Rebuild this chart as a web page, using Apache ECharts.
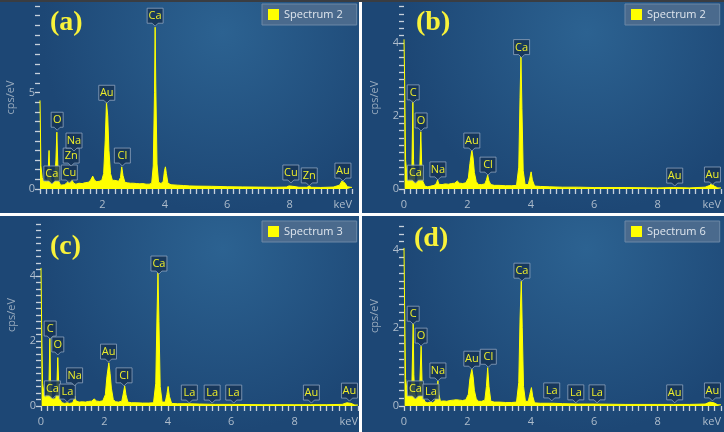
<!DOCTYPE html>
<html>
<head>
<meta charset="utf-8">
<style>
  html, body { margin: 0; padding: 0; background: #ffffff; }
  #main { width: 724px; height: 432px; }
</style>
<script src="https://cdn.jsdelivr.net/npm/echarts@6/dist/echarts.min.js"></script>
</head>
<body>
<div id="main"></div>
<script>
// EDS spectra, [keV, cps/eV]
var specA = [[0,4.6],[0.03,1.2],[0.07,0.6],[0.12,0.35],[0.18,0.5],[0.22,0.3],[0.26,0.9],[0.29,2.0],[0.31,0.9],[0.34,0.6],[0.37,0.3],[0.42,0.25],[0.47,0.4],[0.51,1.5],[0.54,2.95],[0.57,1.3],[0.6,0.4],[0.66,0.2],[0.72,0.25],[0.78,0.22],[0.85,0.3],[0.9,0.4],[0.93,0.45],[0.97,0.3],[1.01,0.5],[1.04,0.45],[1.08,0.3],[1.15,0.25],[1.25,0.3],[1.35,0.28],[1.45,0.33],[1.55,0.35],[1.62,0.45],[1.69,0.67],[1.75,0.45],[1.82,0.38],[1.9,0.4],[1.98,0.45],[2.04,0.8],[2.09,2.5],[2.13,4.5],[2.17,3.8],[2.21,2.0],[2.26,0.8],[2.32,0.45],[2.4,0.45],[2.46,0.5],[2.52,0.4],[2.58,0.6],[2.62,1.15],[2.66,0.7],[2.72,0.35],[2.8,0.32],[2.9,0.3],[3.0,0.3],[3.1,0.28],[3.2,0.27],[3.3,0.28],[3.4,0.25],[3.5,0.25],[3.58,0.3],[3.63,1.2],[3.67,5.0],[3.69,8.4],[3.71,5.5],[3.75,1.3],[3.8,0.35],[3.88,0.28],[3.95,0.4],[3.99,0.95],[4.02,1.15],[4.05,0.8],[4.1,0.3],[4.2,0.22],[4.4,0.2],[4.6,0.18],[4.8,0.16],[5,0.15],[5.5,0.14],[6,0.12],[6.5,0.11],[7,0.1],[7.5,0.09],[7.9,0.1],[7.98,0.16],[8.04,0.22],[8.1,0.14],[8.3,0.09],[8.55,0.09],[8.63,0.14],[8.7,0.09],[9.0,0.08],[9.4,0.1],[9.6,0.2],[9.68,0.42],[9.72,0.47],[9.78,0.3],[9.85,0.12],[10,0.08]];
var specB = [[0,4.1],[0.02,3.0],[0.05,0.8],[0.1,0.3],[0.15,0.2],[0.2,0.15],[0.25,0.6],[0.28,2.44],[0.3,0.8],[0.33,0.25],[0.36,0.3],[0.4,0.15],[0.46,0.2],[0.5,0.6],[0.53,1.57],[0.56,0.6],[0.6,0.2],[0.66,0.08],[0.75,0.06],[0.85,0.08],[0.95,0.1],[1.02,0.15],[1.06,0.25],[1.1,0.13],[1.2,0.12],[1.3,0.14],[1.4,0.13],[1.5,0.15],[1.6,0.16],[1.68,0.22],[1.75,0.16],[1.85,0.15],[1.95,0.17],[2.03,0.3],[2.08,0.7],[2.14,1.07],[2.18,0.85],[2.22,0.45],[2.28,0.2],[2.35,0.12],[2.45,0.12],[2.55,0.14],[2.6,0.25],[2.64,0.38],[2.68,0.22],[2.74,0.12],[2.85,0.1],[3.0,0.1],[3.2,0.09],[3.4,0.09],[3.55,0.1],[3.62,0.6],[3.66,2.5],[3.69,3.62],[3.72,2.2],[3.76,0.5],[3.82,0.12],[3.92,0.12],[3.97,0.3],[4.01,0.47],[4.05,0.25],[4.12,0.08],[4.3,0.07],[4.6,0.06],[5,0.05],[5.5,0.05],[6,0.04],[7,0.04],[8,0.03],[8.5,0.04],[9,0.03],[9.5,0.05],[9.65,0.1],[9.71,0.16],[9.78,0.08],[9.9,0.03],[10,0.03]];
var specC = [[0,4.25],[0.02,2.5],[0.05,0.7],[0.1,0.35],[0.15,0.25],[0.2,0.2],[0.25,0.6],[0.28,2.1],[0.3,0.8],[0.33,0.3],[0.36,0.35],[0.4,0.2],[0.47,0.25],[0.5,0.6],[0.53,1.49],[0.56,0.6],[0.6,0.2],[0.66,0.1],[0.75,0.08],[0.83,0.1],[0.9,0.08],[1.0,0.1],[1.04,0.2],[1.07,0.31],[1.1,0.16],[1.2,0.12],[1.3,0.13],[1.4,0.12],[1.5,0.14],[1.6,0.15],[1.68,0.22],[1.75,0.15],[1.85,0.14],[1.95,0.16],[2.03,0.35],[2.08,0.9],[2.14,1.33],[2.18,1.0],[2.22,0.55],[2.28,0.2],[2.35,0.13],[2.45,0.12],[2.55,0.15],[2.6,0.4],[2.64,0.62],[2.68,0.35],[2.74,0.12],[2.85,0.1],[3.0,0.1],[3.2,0.09],[3.4,0.09],[3.55,0.1],[3.62,0.7],[3.66,2.8],[3.69,4.1],[3.72,2.6],[3.76,0.6],[3.82,0.12],[3.92,0.12],[3.97,0.35],[4.01,0.6],[4.05,0.3],[4.12,0.08],[4.3,0.07],[4.65,0.07],[5,0.06],[5.5,0.05],[6,0.05],[7,0.04],[8,0.04],[8.5,0.04],[9,0.04],[9.5,0.05],[9.65,0.1],[9.71,0.15],[9.78,0.08],[9.9,0.03],[10,0.03]];
var specD = [[0,4.04],[0.02,2.5],[0.05,0.7],[0.1,0.35],[0.15,0.25],[0.2,0.2],[0.25,0.6],[0.29,2.12],[0.31,0.8],[0.34,0.3],[0.37,0.3],[0.41,0.2],[0.47,0.25],[0.5,0.6],[0.54,1.53],[0.57,0.6],[0.61,0.2],[0.67,0.1],[0.75,0.08],[0.83,0.1],[0.9,0.08],[0.98,0.12],[1.03,0.35],[1.07,0.64],[1.1,0.3],[1.15,0.12],[1.25,0.13],[1.35,0.12],[1.45,0.14],[1.55,0.15],[1.65,0.16],[1.7,0.2],[1.75,0.15],[1.85,0.14],[1.95,0.16],[2.03,0.3],[2.08,0.7],[2.14,0.94],[2.18,0.75],[2.22,0.4],[2.28,0.18],[2.35,0.12],[2.45,0.12],[2.55,0.15],[2.6,0.5],[2.64,0.98],[2.68,0.5],[2.74,0.12],[2.85,0.1],[3.0,0.1],[3.2,0.09],[3.4,0.09],[3.55,0.1],[3.62,0.6],[3.66,2.2],[3.7,3.19],[3.73,2.0],[3.77,0.5],[3.83,0.12],[3.92,0.12],[3.97,0.3],[4.02,0.47],[4.06,0.25],[4.12,0.08],[4.3,0.07],[4.6,0.07],[4.65,0.1],[4.7,0.07],[5,0.06],[5.5,0.05],[6,0.05],[7,0.04],[8,0.04],[8.5,0.04],[9,0.04],[9.5,0.05],[9.65,0.1],[9.71,0.14],[9.78,0.08],[9.9,0.03],[10,0.03]];

// peak labels: [element, keV, value where the pointer ends]
var peaksA = [['Ca',0.38,0.26],['Cu',0.94,0.31],['Zn',1.0,1.19],['Na',1.09,1.97],['O',0.55,3.05],['Au',2.14,4.45],['Cl',2.64,1.19],['Ca',3.69,8.45],['Cu',8.04,0.31],['Zn',8.63,0.16],['Au',9.71,0.41]];
var peaksB = [['Ca',0.36,0.16],['C',0.29,2.36],['O',0.54,1.59],['Na',1.07,0.25],['Au',2.14,1.04],['Cl',2.65,0.38],['Ca',3.71,3.6],['Au',8.54,0.08],['Au',9.73,0.11]];
var peaksC = [['Ca',0.36,0.22],['C',0.29,2.06],['O',0.53,1.57],['La',0.83,0.12],['Na',1.06,0.62],['Au',2.13,1.35],['Cl',2.62,0.62],['Ca',3.72,4.06],['La',4.68,0.09],['La',5.4,0.09],['La',6.08,0.09],['Au',8.53,0.09],['Au',9.73,0.15]];
var peaksD = [['Ca',0.36,0.18],['C',0.29,2.09],['O',0.54,1.53],['La',0.85,0.1],['Na',1.07,0.64],['Au',2.14,0.94],['Cl',2.66,0.99],['Ca',3.72,3.19],['La',4.66,0.13],['La',5.42,0.08],['La',6.09,0.08],['Au',8.54,0.08],['Au',9.73,0.13]];

var panelTags = ['(a)', '(b)', '(c)', '(d)'];
var spectrumNames = ['Spectrum 2', 'Spectrum 2', 'Spectrum 3', 'Spectrum 6'];
var yMax = [9.5, 5.0, 5.6, 4.6];
var yStep = [0.5, 0.2, 0.2, 0.2];
var yLabelEvery = [5, 2, 2, 2];

var spectra = [specA, specB, specC, specD];
var peaks = [peaksA, peaksB, peaksC, peaksD];

// panel boxes [x, y, w, h] and grids
var panels = [[0, 0, 359, 213], [362, 0, 362, 213], [0, 216, 359, 216], [362, 216, 362, 216]];
var tagPos = [[50, 9], [54, 9], [50, 17], [52, 9]];
var grids = [
    {left: 40, top: 6, width: 312, height: 183},
    {left: 404, top: 6.5, width: 317, height: 182.5},
    {left: 41, top: 224, width: 317, height: 182},
    {left: 404, top: 226, width: 318, height: 180}
];

var chart = echarts.init(document.getElementById('main'));

function peakRenderer(list) {
    return function (params, api) {
        var p = api.coord([api.value(0), api.value(1)]);
        var name = list[params.dataIndex][0];
        var w = name.length === 1 ? 12 : 16;
        var h = 15;
        var bottom = p[1] - 3;
        var left = p[0] - w / 2;
        return {
            type: 'group',
            children: [{
                type: 'polygon',
                shape: {points: [
                    [left, bottom - h], [left + w, bottom - h], [left + w, bottom],
                    [p[0] + 3, bottom], [p[0], p[1]], [p[0] - 3, bottom], [left, bottom]
                ]},
                style: {fill: 'rgba(22,52,86,0.85)', stroke: 'rgba(150,170,195,0.75)', lineWidth: 1}
            }, {
                type: 'text',
                style: {
                    text: name, x: p[0], y: bottom - h / 2 + 0.5,
                    align: 'center', verticalAlign: 'middle',
                    fill: '#eeee2a', font: '11px "Open Sans", sans-serif'
                }
            }]
        };
    };
}

var xAxes = [], yAxes = [], series = [], legends = [], graphics = [];

graphics.push({type: 'rect', shape: {x: 0, y: 0, width: 724, height: 2}, style: {fill: '#3a3d42'}, z: -9});

for (var i = 0; i < 4; i++) {
    var pb = panels[i];
    graphics.push({
        type: 'rect', z: -10,
        shape: {x: pb[0], y: pb[1], width: pb[2], height: pb[3]},
        style: {fill: new echarts.graphic.RadialGradient(0.62, 0.15, 0.85, [
            {offset: 0, color: '#2c6291'},
            {offset: 1, color: '#1d4775'}
        ])}
    });
    graphics.push({
        type: 'text', z: 10,
        x: pb[0] + tagPos[i][0], y: pb[1] + tagPos[i][1],
        style: {text: panelTags[i], fill: '#f8f23a', font: 'bold 28px "Liberation Serif", serif'}
    });

    (function (idx) {
        xAxes.push({
            type: 'value', gridIndex: idx, min: 0, max: 10, interval: 0.2, offset: 3,
            axisLine: {show: false},
            axisTick: {show: true, length: 5, lineStyle: {color: '#c7d1dc', width: 1.3}},
            splitLine: {show: false},
            axisLabel: {
                color: '#aebccb', fontSize: 11, fontFamily: 'Open Sans', margin: 7,
                alignMaxLabel: 'right',
                formatter: function (v) {
                    var r = Math.round(v);
                    if (Math.abs(v - r) > 1e-6) return '';
                    if (r === 10) return 'keV';
                    if (r === 0 && idx === 0) return '';
                    return r % 2 === 0 ? String(r) : '';
                }
            }
        });
        yAxes.push({
            type: 'value', gridIndex: idx, min: 0, max: yMax[idx], interval: yStep[idx],
            name: 'cps/eV', nameLocation: 'middle', nameGap: 24,
            nameTextStyle: {color: '#98aabd', fontSize: 11, fontFamily: 'Open Sans'},
            axisLine: {show: false},
            axisTick: {show: true, length: 5, lineStyle: {color: '#c7d1dc', width: 1.3}},
            splitLine: {show: false},
            axisLabel: {
                color: '#aebccb', fontSize: 11, fontFamily: 'Open Sans', margin: 5,
                formatter: function (v) {
                    var r = Math.round(v);
                    if (Math.abs(v - r) > 1e-6) return '';
                    return r % yLabelEvery[idx] === 0 ? String(r) : '';
                }
            }
        });
    })(i);

    series.push({
        name: spectrumNames[i], type: 'line', xAxisIndex: i, yAxisIndex: i,
        data: spectra[i], showSymbol: false, symbol: 'none',
        color: '#ffff00',
        lineStyle: {color: '#ffff00', width: 1},
        areaStyle: {color: '#ffff00', opacity: 1},
        silent: true, z: 2
    });
    series.push({
        type: 'custom', xAxisIndex: i, yAxisIndex: i, clip: false, z: 5, silent: true,
        renderItem: peakRenderer(peaks[i]),
        data: peaks[i].map(function (d) { return [d[1], d[2]]; })
    });

    legends.push({
        data: [spectrumNames[i]],
        left: pb[0] + (i % 2 ? 263 : 262), top: pb[1] + (i < 2 ? 4 : 5),
        icon: 'rect', itemWidth: 11, itemHeight: 11, itemGap: 0,
        padding: [5, 14, 5, 6],
        backgroundColor: '#4a6a8d', borderColor: '#6c88a6', borderWidth: 1,
        selectedMode: false,
        textStyle: {color: '#dfe6ee', fontSize: 11, fontFamily: 'Open Sans'}
    });
}

chart.setOption({
    animation: false,
    backgroundColor: '#ffffff',
    graphic: graphics,
    grid: grids,
    xAxis: xAxes,
    yAxis: yAxes,
    legend: legends,
    series: series
});
</script>
</body>
</html>
